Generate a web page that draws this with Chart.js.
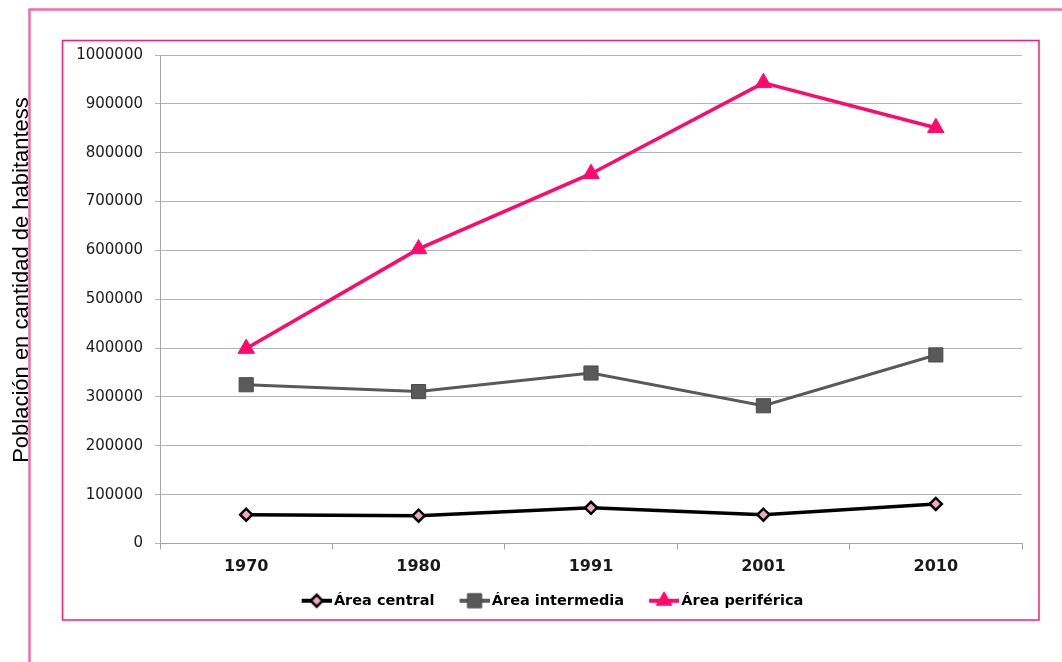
<!DOCTYPE html>
<html lang="es">
<head>
<meta charset="utf-8">
<title>Población por área</title>
<script src="https://cdn.jsdelivr.net/npm/chart.js@4.4.1/dist/chart.umd.min.js"></script>
<style>
  html, body { margin: 0; padding: 0; background: #fff; }
  #grafico { display: block; }
</style>
</head>
<body>
<canvas id="grafico" width="1062" height="662"></canvas>
<script>
// Datos
const anios = ['1970', '1980', '1991', '2001', '2010'];
const areaCentral = [59000, 57000, 73000, 59000, 81000];
const areaIntermedia = [325000, 311000, 349000, 282000, 386000];
const areaPeriferica = [399000, 603000, 757000, 943000, 851000];
const ticksY = [0, 100000, 200000, 300000, 400000, 500000, 600000, 700000, 800000, 900000, 1000000];
const nombresSeries = ['Área central', 'Área intermedia', 'Área periférica'];
const tituloY = 'Población en cantidad de habitantess';

const ROSA = '#ff0a6c';
const GRIS = '#595959';

// Icono de leyenda: línea con el marcador en medio.
// El lienzo es más ancho que el símbolo para que quede pegado al texto.
function iconoLeyenda(colorLinea, grosor, estilo, radio, relleno, borde, grosorBorde) {
    const c = document.createElement('canvas');
    c.width = 50;
    c.height = 20;
    const ctx = c.getContext('2d');
    ctx.strokeStyle = colorLinea;
    ctx.lineWidth = grosor;
    ctx.beginPath();
    ctx.moveTo(20, 10);
    ctx.lineTo(50, 10);
    ctx.stroke();
    ctx.fillStyle = relleno;
    ctx.strokeStyle = borde;
    ctx.lineWidth = grosorBorde;
    Chart.helpers.drawPoint(ctx, { pointStyle: estilo, radius: radio, borderWidth: grosorBorde, rotation: 0 }, 35, 10);
    return c;
}

// Marcos rosas, título del eje Y y ajuste de la leyenda
const marcos = {
    id: 'marcos',
    afterLayout(chart) {
        chart.legend.left += 34;
        chart.legend.right += 34;
    },
    afterDraw(chart) {
        const ctx = chart.ctx;
        ctx.save();
        ctx.translate(28, 280);
        ctx.rotate(-Math.PI / 2);
        ctx.font = '22px "Liberation Sans", Arial, sans-serif';
        ctx.fillStyle = '#000';
        ctx.textAlign = 'center';
        ctx.textBaseline = 'alphabetic';
        ctx.fillText(tituloY, 0, 0);
        ctx.restore();

        ctx.save();
        ctx.strokeStyle = '#f06ca8';
        ctx.lineWidth = 2.5;
        ctx.beginPath();
        ctx.moveTo(29.5, 670);
        ctx.lineTo(29.5, 9.5);
        ctx.lineTo(1062, 9.5);
        ctx.stroke();
        ctx.strokeStyle = '#ff1a78';
        ctx.lineWidth = 1.5;
        ctx.strokeRect(62.5, 40.5, 976.5, 579.5);
        ctx.restore();
    }
};

const iconos = [
    iconoLeyenda('#000', 4, 'rectRot', 6, '#f4a6c6', '#000', 2.5),
    iconoLeyenda(GRIS, 4, 'rect', 10, GRIS, '#4a4a4a', 1),
    iconoLeyenda(ROSA, 4, 'triangle', 9, ROSA, ROSA, 1)
];

new Chart(document.getElementById('grafico'), {
    type: 'line',
    data: {
        labels: anios,
        datasets: [
            {
                label: nombresSeries[0],
                data: areaCentral,
                borderColor: '#000',
                backgroundColor: '#f4a6c6',
                borderWidth: 3.5,
                pointStyle: 'rectRot',
                pointRadius: 6,
                pointBorderWidth: 2.5,
                pointBorderColor: '#000',
                pointBackgroundColor: '#f4a6c6'
            },
            {
                label: nombresSeries[1],
                data: areaIntermedia,
                borderColor: GRIS,
                backgroundColor: GRIS,
                borderWidth: 3,
                pointStyle: 'rect',
                pointRadius: 10,
                pointBorderWidth: 1,
                pointBorderColor: '#4a4a4a',
                pointBackgroundColor: GRIS
            },
            {
                label: nombresSeries[2],
                data: areaPeriferica,
                borderColor: ROSA,
                backgroundColor: ROSA,
                borderWidth: 3.5,
                pointStyle: 'triangle',
                pointRadius: 9.5,
                pointBorderWidth: 1,
                pointBorderColor: ROSA,
                pointBackgroundColor: ROSA
            }
        ]
    },
    options: {
        responsive: false,
        devicePixelRatio: 1,
        animation: false,
        layout: {
            padding: { top: 55, right: 40, bottom: 44, left: 0 }
        },
        plugins: {
            tooltip: { enabled: false },
            legend: {
                position: 'bottom',
                labels: {
                    usePointStyle: true,
                    pointStyleWidth: 40,
                    padding: 10,
                    color: '#000',
                    font: { family: 'DejaVu Sans', size: 14.5, weight: 'bold' },
                    generateLabels: function(chart) {
                        return chart.data.datasets.map((ds, i) => ({
                            text: ds.label,
                            pointStyle: iconos[i],
                            fillStyle: ds.borderColor,
                            strokeStyle: ds.borderColor,
                            lineWidth: 0,
                            hidden: false,
                            datasetIndex: i
                        }));
                    }
                }
            }
        },
        scales: {
            x: {
                offset: true,
                grid: {
                    offset: true,
                    drawOnChartArea: false,
                    tickLength: 6,
                    color: '#a6a6a6'
                },
                border: { color: '#a6a6a6' },
                ticks: {
                    color: '#1a1a1a',
                    padding: 8,
                    maxRotation: 0,
                    font: { family: 'DejaVu Sans', size: 16, weight: 'bold' }
                },
                afterFit: s => { s.height = 40; }
            },
            y: {
                min: 0,
                max: 1000000,
                afterBuildTicks: s => { s.ticks = ticksY.map(v => ({ value: v })); },
                grid: { color: '#b3b3b3', tickLength: 5 },
                border: { color: '#a6a6a6' },
                ticks: {
                    color: '#1a1a1a',
                    padding: 12,
                    font: { family: 'DejaVu Sans', size: 15 },
                    callback: v => String(v)
                },
                afterFit: s => { s.width = 160; }
            }
        }
    },
    plugins: [marcos]
});
</script>
</body>
</html>
